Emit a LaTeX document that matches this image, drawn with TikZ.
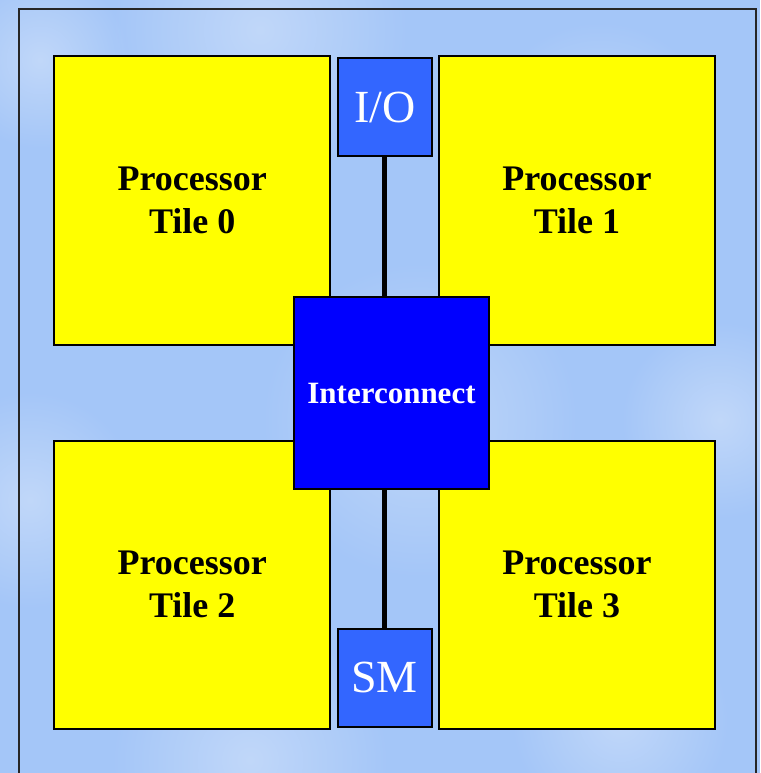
\documentclass[tikz,border=0pt]{standalone}
\usepackage{fontspec}
\setmainfont{Liberation Serif}
\usetikzlibrary{fadings}
\definecolor{bgblue}{HTML}{A4C6F8}
\definecolor{bgpale}{HTML}{C8DCFA}
\definecolor{tileyellow}{HTML}{FFFF00}
\definecolor{portblue}{HTML}{3366FF}
\definecolor{icblue}{HTML}{0000FF}
\tikzfading[name=softspot, inner color=transparent!0, outer color=transparent!100]
\begin{document}
\begin{tikzpicture}[x=1pt,y=-1pt,
  tile/.style={draw=black, line width=2pt, fill=tileyellow, minimum width=276pt,
    minimum height=288pt, inner sep=0pt, align=center,
    font=\bfseries\fontsize{36}{43}\selectfont},
  port/.style={draw=black, line width=2pt, fill=portblue, minimum width=94pt,
    minimum height=98pt, inner sep=0pt, text=white,
    font=\fontsize{46}{50}\selectfont},
  hub/.style={draw=black, line width=2pt, fill=icblue, minimum width=195pt,
    minimum height=192pt, inner sep=0pt, text=white,
    font=\bfseries\fontsize{31}{36}\selectfont},
  wire/.style={line width=4.5pt, black},
  glow/.style={fill=bgpale, path fading=softspot, opacity=0.8}]
\useasboundingbox (0,0) rectangle (760,773);
% textured backdrop
\begin{scope}
  \clip (0,0) rectangle (760,773);
  \fill[bgblue] (0,0) rectangle (760,773);
  \fill[glow] (260,30) circle (150);
  \fill[glow] (40,60) circle (90);
  \fill[glow] (600,140) circle (120);
  \fill[glow] (30,500) circle (110);
  \fill[glow] (420,420) circle (160);
  \fill[glow] (720,420) circle (100);
  \fill[glow] (250,760) circle (140);
  \fill[glow] (620,720) circle (110);
  \draw[line width=2pt, black!85] (18.5,790) -- (18.5,9) -- (755.5,9) -- (755.5,790);
\end{scope}
% processor tiles
\node[tile] (t0) at (192.25,200.5) {Processor\\Tile 0};
\node[tile] (t1) at (577,200.5) {Processor\\Tile 1};
\node[tile] (t2) at (192.25,584.5) {Processor\\Tile 2};
\node[tile] (t3) at (577,584.5) {Processor\\Tile 3};
% I/O and shared memory ports
\node[port] (io) at (384.7,107) {I/O};
\node[port] (sm) at (384.5,677.5) {SM};
% interconnect hub
\node[hub] (ic) at (391.5,393) {Interconnect};
% links
\draw[wire] (io.south) -- (io.south |- ic.north);
\draw[wire] (sm.north) -- (sm.north |- ic.south);
\end{tikzpicture}
\end{document}
